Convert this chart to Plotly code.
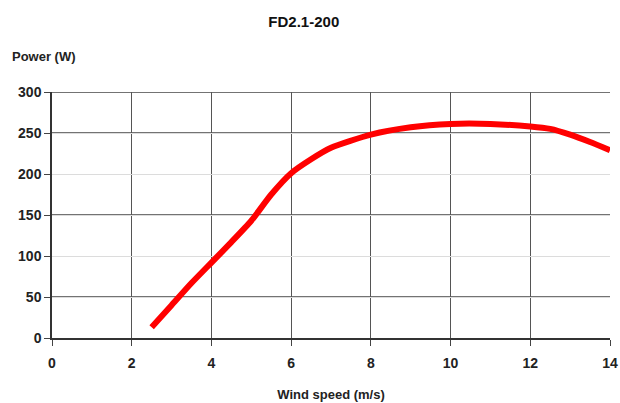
import plotly.graph_objects as go

wind_speed = [2.5, 3, 3.5, 4, 4.5, 5, 5.5, 6, 6.5, 7, 8, 9, 10, 11, 12, 12.5, 13, 13.5, 14]
power_w = [13, 40, 67, 92, 117, 143, 175, 201, 218, 232, 248, 257, 261, 261, 258, 255, 248, 239, 229]

x_ticks = [0, 2, 4, 6, 8, 10, 12, 14]
y_ticks = [0, 50, 100, 150, 200, 250, 300]
y_dark = [50, 150, 250, 300]

FONT = "Liberation Sans Narrow, Liberation Sans, Arial, sans-serif"

fig = go.Figure()
fig.add_trace(go.Scatter(
    x=wind_speed, y=power_w, mode="lines",
    line=dict(color="#ff0000", width=6, shape="spline", smoothing=0.6),
    showlegend=False, hoverinfo="skip",
))

for v in y_dark:
    fig.add_shape(type="line", xref="paper", x0=0, x1=1, yref="y", y0=v, y1=v,
                  line=dict(color="#444", width=1.4), layer="between")

fig.update_layout(
    width=620, height=403,
    paper_bgcolor="white", plot_bgcolor="white",
    margin=dict(l=52, r=10, t=92, b=65, autoexpand=False),
    title=dict(text="<b>FD2.1-200</b>", x=0.49, xanchor="center", y=0.945, yanchor="middle",
               font=dict(family=FONT, size=15, color="#111")),
    font=dict(family=FONT, color="#222"),
    xaxis=dict(
        range=[0, 14], tickvals=x_ticks, ticktext=[f"<b>{v}</b>" for v in x_ticks],
        showgrid=True, gridcolor="#555", gridwidth=1.3,
        showline=True, linecolor="#333", linewidth=1.5,
        ticks="outside", ticklen=6, tickcolor="#444", tickwidth=1.3,
        ticklabelstandoff=5, ticklabeloverflow="allow",
        tickfont=dict(family=FONT, size=14, color="#222"),
        zeroline=False,
        title=dict(text="<b>Wind speed (m/s)</b>", font=dict(family=FONT, size=13, color="#222"), standoff=20),
    ),
    yaxis=dict(
        range=[0, 300], tickvals=y_ticks, ticktext=[f"<b>{v}</b>" for v in y_ticks],
        showgrid=True, gridcolor="#dcdcdc", gridwidth=1.3,
        showline=True, linecolor="#333", linewidth=1.5,
        ticks="outside", ticklen=6, tickcolor="#444", tickwidth=1.3,
        ticklabeloverflow="allow",
        tickfont=dict(family=FONT, size=14, color="#222"),
        zeroline=False,
    ),
    annotations=[dict(
        text="<b>Power (W)</b>", xref="paper", yref="paper", x=-0.075, y=1.145,
        xanchor="left", yanchor="middle", showarrow=False,
        font=dict(family=FONT, size=13, color="#222"),
    )],
)

fig.write_html("out.html", config={"displayModeBar": False},
               post_script="document.body.style.margin='0px';")
